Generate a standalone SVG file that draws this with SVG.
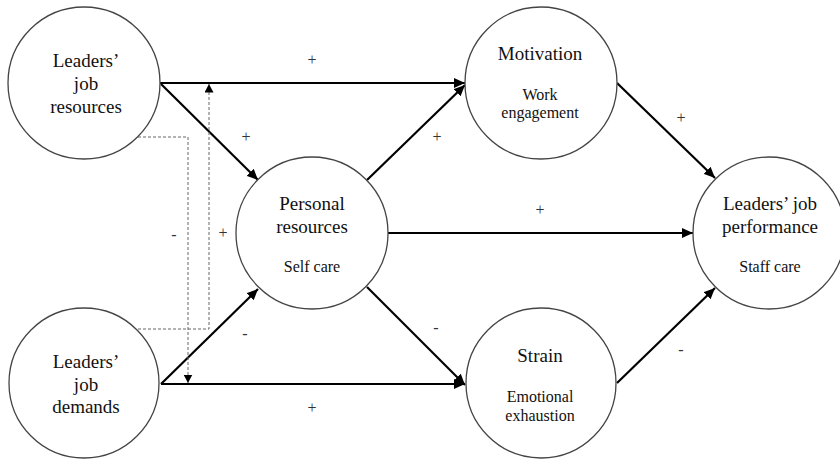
<svg xmlns="http://www.w3.org/2000/svg" width="840" height="459" viewBox="0 0 840 459">
<defs>
<style>
.node circle{fill:#fff;stroke:#444;stroke-width:1.3}
.t{font-family:'Liberation Serif','DejaVu Serif',serif;font-size:19px;fill:#111;text-anchor:middle}
.s{font-family:'Liberation Serif','DejaVu Serif',serif;font-size:16px;fill:#111;text-anchor:middle}
.lbl{font-family:'Liberation Serif','DejaVu Serif',serif;font-size:16px;fill:#333;text-anchor:middle}
.arr{fill:none;stroke:#000;stroke-width:2.2;marker-end:url(#ah)}
.dash{fill:none;stroke:#666;stroke-width:1;stroke-dasharray:3,2;marker-end:url(#dh)}
</style>
<marker id="ah" markerUnits="userSpaceOnUse" markerWidth="12" markerHeight="10" refX="11" refY="5" orient="auto">
<path d="M0,0 L11,5 L0,10 z" fill="#000"/>
</marker>
<marker id="dh" markerUnits="userSpaceOnUse" markerWidth="9" markerHeight="9" refX="8.5" refY="4.5" orient="auto">
<path d="M0,0 L8.5,4.5 L0,9 z" fill="#000"/>
</marker>
</defs>
<rect width="840" height="459" fill="#fff"/>

<g id="connectors">
<path class="arr" d="M160,83 L465,83"/>
<path class="arr" d="M161,84 L258,180"/>
<path class="arr" d="M161,384 L258,289"/>
<path class="arr" d="M161,384 L465,384"/>
<path class="arr" d="M367,180 L465,85"/>
<path class="arr" d="M367,287 L465,385"/>
<path class="arr" d="M388,233 L693,233"/>
<path class="arr" d="M617,83 L715,178"/>
<path class="arr" d="M617,383 L715,288"/>
<path class="dash" d="M138,137 H188 V383"/>
<path class="dash" d="M138,329 H209 V84"/>
<text class="lbl" x="312" y="65" font-family="Liberation Serif">+</text>
<text class="lbl" x="246" y="142" font-family="Liberation Serif">+</text>
<text class="lbl" x="437" y="142" font-family="Liberation Serif">+</text>
<text class="lbl" x="681" y="123" font-family="Liberation Serif">+</text>
<text class="lbl" x="540" y="215" font-family="Liberation Serif">+</text>
<text class="lbl" x="174" y="240" font-family="Liberation Serif">-</text>
<text class="lbl" x="223" y="238" font-family="Liberation Serif">+</text>
<text class="lbl" x="245" y="339" font-family="Liberation Serif">-</text>
<text class="lbl" x="436" y="333" font-family="Liberation Serif">-</text>
<text class="lbl" x="312" y="413" font-family="Liberation Serif">+</text>
<text class="lbl" x="681" y="355" font-family="Liberation Serif">-</text>
</g>

<g id="job-resources" class="node">
<circle cx="84" cy="83" r="76"/>
<text class="t" x="86" y="67">Leaders’</text>
<text class="t" x="86" y="90">job</text>
<text class="t" x="86" y="113">resources</text>
</g>

<g id="job-demands" class="node">
<circle cx="84" cy="383" r="75"/>
<text class="t" x="86" y="368">Leaders’</text>
<text class="t" x="86" y="391">job</text>
<text class="t" x="86" y="413">demands</text>
</g>

<g id="personal-resources" class="node">
<circle cx="312" cy="233" r="76"/>
<text class="t" x="312" y="210">Personal</text>
<text class="t" x="312" y="233">resources</text>
<text class="s" x="312" y="272">Self care</text>
</g>

<g id="motivation" class="node">
<circle cx="541" cy="83" r="76"/>
<text class="t" x="540" y="60">Motivation</text>
<text class="s" x="540" y="100">Work</text>
<text class="s" x="540" y="118">engagement</text>
</g>

<g id="strain" class="node">
<circle cx="541" cy="383" r="75"/>
<text class="t" x="540" y="362">Strain</text>
<text class="s" x="540" y="402">Emotional</text>
<text class="s" x="540" y="421">exhaustion</text>
</g>

<g id="job-performance" class="node">
<circle cx="769" cy="233" r="76"/>
<text class="t" x="770" y="210">Leaders’ job</text>
<text class="t" x="770" y="233">performance</text>
<text class="s" x="770" y="272">Staff care</text>
</g>
</svg>
